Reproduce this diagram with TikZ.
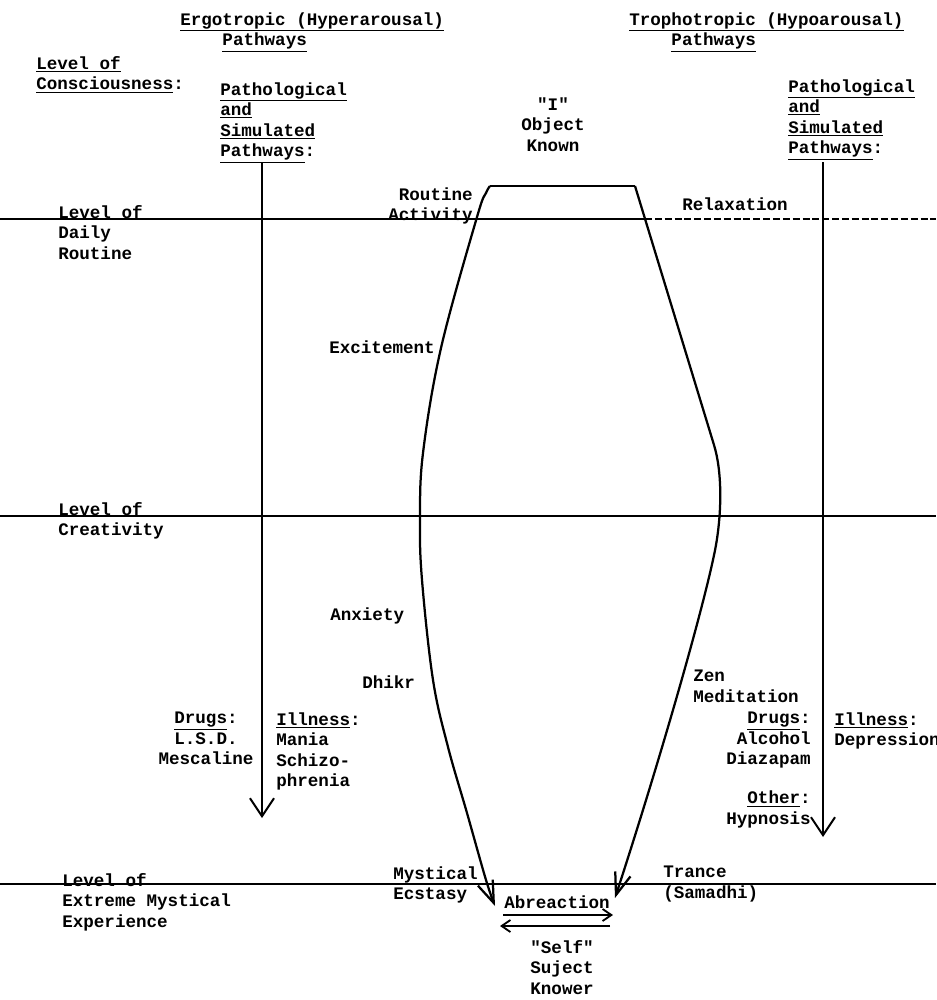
\documentclass[tikz,border=0pt]{standalone}
\usepackage{fontspec}
\setmonofont{Liberation Mono}
\usepackage{tikz}
\usetikzlibrary{arrows.meta}

\begin{document}
\begin{tikzpicture}[x=0.025cm, y=-0.025cm,
txt/.style={font=\fontsize{12.5}{14.6}\selectfont\ttfamily\bfseries, inner sep=0pt},
lvl/.style={line width=1pt},
side/.style={line width=1.6pt, -{Straight Barb[length=5.5mm, width=4mm]}},
arrow/.style={line width=1.4pt, -{Straight Barb[length=4.5mm, width=6mm]}},
small/.style={line width=1.3pt, -{Straight Barb[length=2.2mm, width=3mm]}}
]
\useasboundingbox (0,0) rectangle (936,1000);

\node[txt, anchor=north west, align=left] (ergo) at (180,12) {\underline{Ergotropic (Hyperarousal)}\\\phantom{xxxx}\underline{Pathways}};
\node[txt, anchor=north west, align=left] (tropho) at (629,12) {\underline{Trophotropic (Hypoarousal)}\\\phantom{xxxx}\underline{Pathways}};
\node[txt, anchor=north west, align=left] (consc) at (36,56) {\underline{Level of}\\\underline{Consciousness}:};
\node[txt, anchor=north west, align=left] (lpath) at (220,82) {\underline{Pathological}\\\underline{and}\\\underline{Simulated}\\\underline{Pathways}:};
\node[txt, anchor=north west, align=left] (rpath) at (788,79) {\underline{Pathological}\\\underline{and}\\\underline{Simulated}\\\underline{Pathways}:};
\node[txt, anchor=north, align=center] (obj) at (553,97) {"I"\\Object\\Known};
\node[txt, anchor=north east, align=right] (routine) at (473,187) {Routine\\Activity};
\node[txt, anchor=base west] (relax) at (682,210) {Relaxation};
\node[txt, anchor=north west, align=left] (daily) at (58,205) {Level of\\Daily\\Routine};
\node[txt, anchor=base west] (excite) at (329,353) {Excitement};
\node[txt, anchor=north west, align=left] (creat) at (58,502) {Level of\\Creativity};
\node[txt, anchor=base west] (anx) at (330,620) {Anxiety};
\node[txt, anchor=base west] (dhikr) at (362,688) {Dhikr};
\node[txt, anchor=north, align=center] (ldrugs) at (206,712) {\underline{Drugs}:\\L.S.D.\\Mescaline};
\node[txt, anchor=north west, align=left] (lill) at (276,712) {\underline{Illness}:\\Mania\\Schizo-\\phrenia};
\node[txt, anchor=north west, align=left] (zen) at (693,670) {Zen\\Meditation};
\node[txt, anchor=north east, align=right] (rdrugs) at (811,712) {\underline{Drugs}:\\Alcohol\\Diazapam\\[13pt]\underline{Other}:\\Hypnosis};
\node[txt, anchor=north west, align=left] (rill) at (834,712) {\underline{Illness}:\\Depression};
\node[txt, anchor=north west, align=left] (extreme) at (62,873) {Level of\\Extreme Mystical\\Experience};
\node[txt, anchor=north west, align=left] (ecstasy) at (393,866) {Mystical\\Ecstasy};
\node[txt, anchor=north west, align=left] (trance) at (663,866) {Trance\\(Samadhi)};
\node[txt, anchor=base] (abre) at (557,908) {Abreaction};
\node[txt, anchor=north, align=center] (self) at (562,940) {"Self"\\Suject\\Knower};

\draw[lvl] (0,219) -- (645,219);
\draw[lvl, dash pattern=on 5pt off 2pt] (645,219) -- (936,219);
\draw[lvl] (0,516) -- (936,516);
\draw[lvl] (0,884) -- (936,884);

\draw[line width=1.6pt] (490,186) -- (635,186);
\draw[side] plot[smooth, tension=0.6] coordinates {(490,186) (486,193) (477,217) (441,348) (423,453) (420,520) (422,580) (433,680) (448,747) (467,813) (486,880) (495,906)};
\draw[side] (635,186) -- (714,445) .. controls (722,471) and (722,510) .. (716,545) .. controls (706,600) and (660,760) .. (615,898);

\coordinate (ltop) at (262,163);
\coordinate (lbot) at (262,818);
\coordinate (rtop) at (823,162);
\coordinate (rbot) at (823,837);
\draw[arrow] (ltop) -- (lbot);
\draw[arrow] (rtop) -- (rbot);

\coordinate (ab1) at (503,915);
\coordinate (ab2) at (613,915);
\coordinate (ab3) at (610,926);
\coordinate (ab4) at (500,926);
\draw[small] (ab1) -- (ab2);
\draw[small] (ab3) -- (ab4);
\end{tikzpicture}
\end{document}
